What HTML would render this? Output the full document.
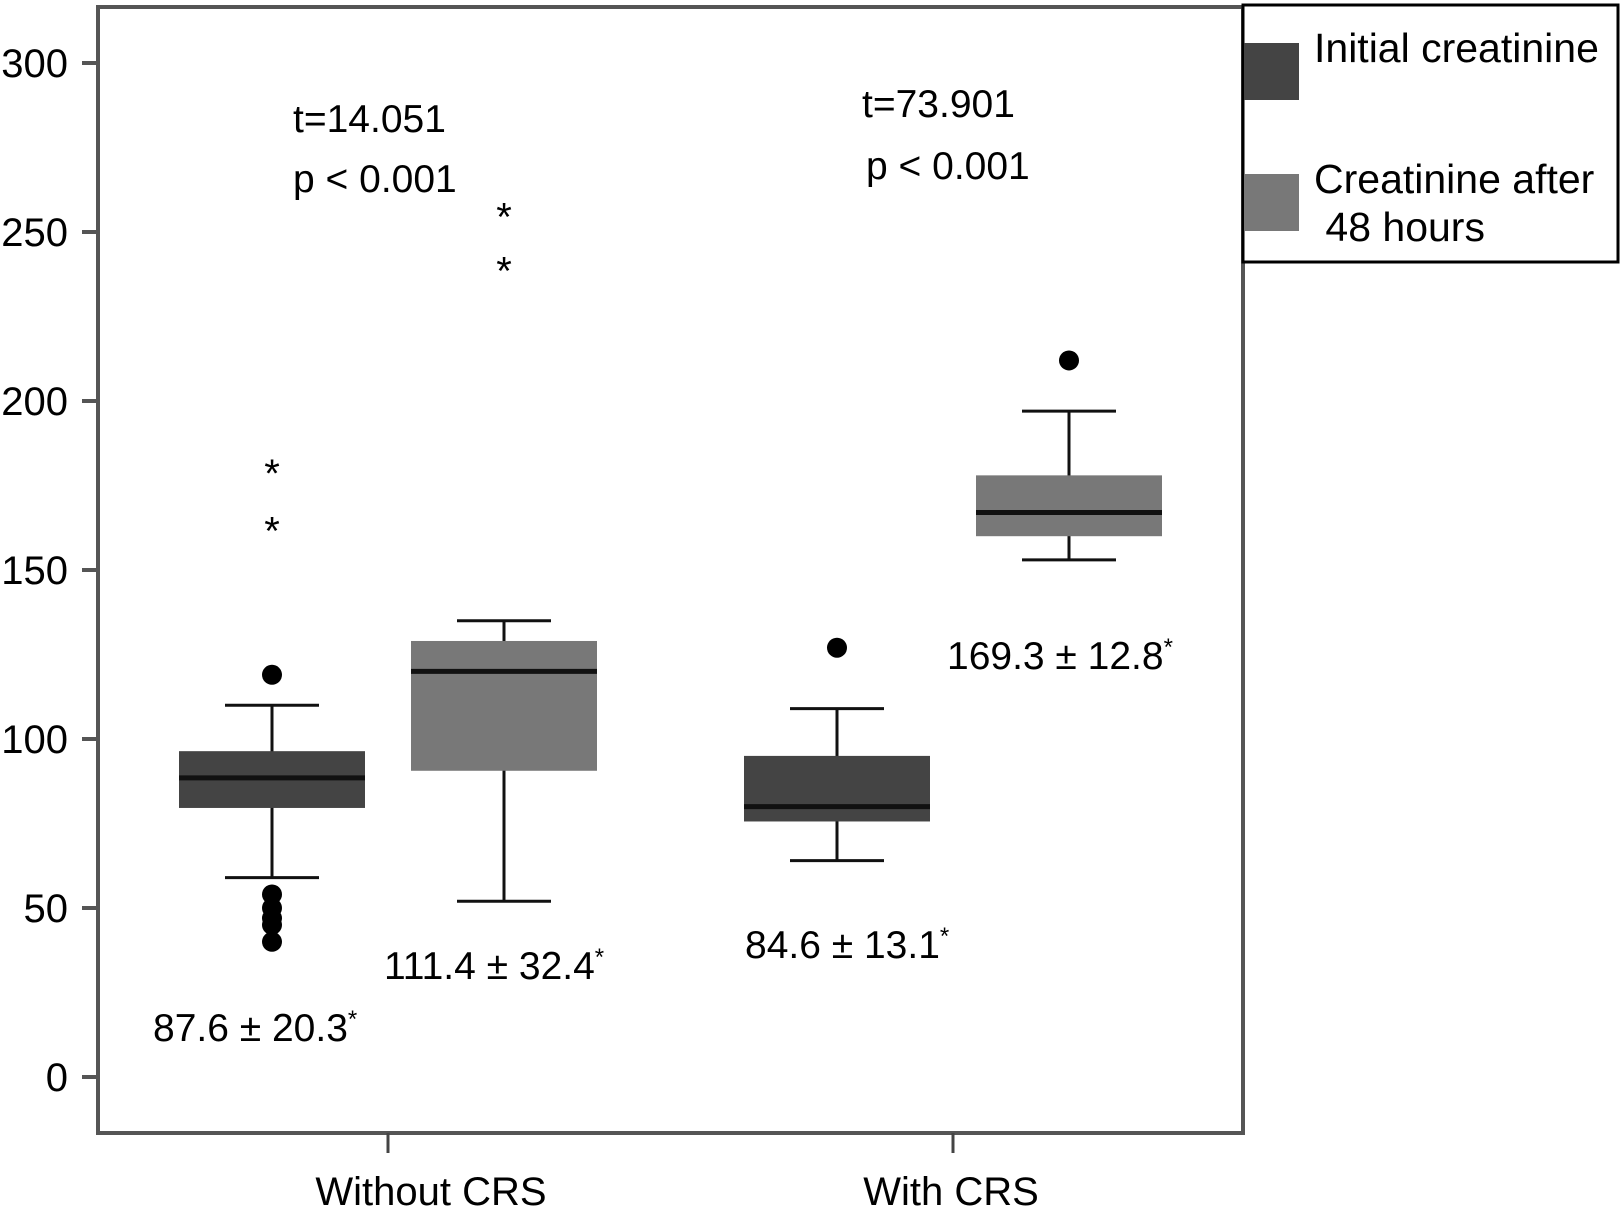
<!DOCTYPE html>
<html><head><meta charset="utf-8"><style>
body{margin:0;background:#fff}
svg text{font-family:"Liberation Sans",sans-serif;fill:#000}
</style></head><body>
<svg id="chart" width="1621" height="1214" viewBox="0 0 1621 1214" xmlns="http://www.w3.org/2000/svg">
<g id="g"></g>
</svg>
<script>
const categories=["Without CRS","With CRS"];
const seriesNames=["Initial creatinine","Creatinine after 48 hours"];
const q1=[[79.6,90.6],[75.6,160]];
const q3=[[96.4,129],[95,178]];
const medians=[[88.5,120],[80,167]];
const whiskLo=[[59,52],[64,153]];
const whiskHi=[[110,135],[109,197]];
const dotOutliers=[[[119,54,50,47,45,40],[]],[[127],[212]]];
const starOutliers=[[[181,164],[257,241]],[[],[]]];
const meanLabels=[["87.6 ± 20.3","111.4 ± 32.4"],["84.6 ± 13.1","169.3 ± 12.8"]];
const yTicks=[0,50,100,150,200,250,300];
const tStats=["t=14.051","t=73.901"];

const NS="http://www.w3.org/2000/svg";
const g=document.getElementById('g');
const y=v=>1077-v*(1014/300);
const catX=[388,953];
const labelX=[431,951];
const off=[-116,116];
const bw=186;
const colors=["#444","#787878"];
function mk(t,a){const e=document.createElementNS(NS,t);for(const k in a)e.setAttribute(k,a[k]);g.appendChild(e);return e;}

let e=mk('rect',{x:98,y:7,width:1145,height:1126,fill:'none',stroke:'#555','stroke-width':4});

yTicks.forEach(t=>{
 let l=mk('line',{x1:82,x2:98,y1:y(t),y2:y(t),stroke:'#555','stroke-width':4});
 
 let tx=mk('text',{x:68,y:y(t)+14,'font-size':40,'text-anchor':'end'});tx.textContent=t;
 
});
categories.forEach((c,i)=>{
 let l=mk('line',{x1:catX[i],x2:catX[i],y1:1133,y2:1153,stroke:'#444','stroke-width':3});
 
 let tx=mk('text',{x:labelX[i],y:1205,'font-size':40,'text-anchor':'middle'});tx.textContent=c;
 
 let t1=mk('text',{x:[293,862][i],y:[132,117][i],'font-size':39});t1.textContent=tStats[i];
 
 let t2=mk('text',{x:[293,866][i],y:[192,179][i],'font-size':39});t2.textContent="p < 0.001";
 
 for(let s=0;s<2;s++){
  const cx=catX[i]+off[s];
  let w=mk('line',{x1:cx,x2:cx,y1:y(whiskHi[i][s]),y2:y(whiskLo[i][s]),stroke:'#111','stroke-width':3});
  
  [whiskHi[i][s],whiskLo[i][s]].forEach(v=>{let c2=mk('line',{x1:cx-47,x2:cx+47,y1:y(v),y2:y(v),stroke:'#111','stroke-width':3});
   });
  let b=mk('rect',{x:cx-bw/2,y:y(q3[i][s]),width:bw,height:y(q1[i][s])-y(q3[i][s]),fill:colors[s]});
  
  let m=mk('line',{x1:cx-bw/2,x2:cx+bw/2,y1:y(medians[i][s]),y2:y(medians[i][s]),stroke:'#111','stroke-width':5});
  
  dotOutliers[i][s].forEach(v=>{let d=mk('circle',{cx:cx,cy:y(v),r:10,fill:'#000'});
   });
  starOutliers[i][s].forEach(v=>{let st=mk('text',{x:cx,y:y(v)+22,'font-size':40,'text-anchor':'middle'});st.textContent='*';
   });
 }
});
const lblPos=[[[153,1041],[384,979]],[[745,958],[947,669]]];
meanLabels.forEach((row,i)=>row.forEach((t,s)=>{
 let tx=mk('text',{x:lblPos[i][s][0],y:lblPos[i][s][1],'font-size':39});
 tx.textContent=t;
 const sp=document.createElementNS(NS,'tspan');sp.setAttribute('font-size',24);sp.setAttribute('dy',-14);sp.textContent='*';tx.appendChild(sp);
 
}));
e=mk('rect',{x:1243,y:5,width:375,height:257,fill:'#fff',stroke:'#000','stroke-width':3});

[[43,"Initial creatinine",null],[174,"Creatinine after"," 48 hours"]].forEach((r,s)=>{
 let sw=mk('rect',{x:1244,y:r[0],width:55,height:57,fill:colors[s]});
 
 let tx=mk('text',{x:1314,y:r[0]+19,'font-size':41});tx.textContent=r[1];
 
 if(r[2]){let t2=mk('text',{x:1314,y:r[0]+67,'font-size':41});t2.textContent=r[2];t2.style.whiteSpace='pre';
  }
});
</script>
</body></html>
